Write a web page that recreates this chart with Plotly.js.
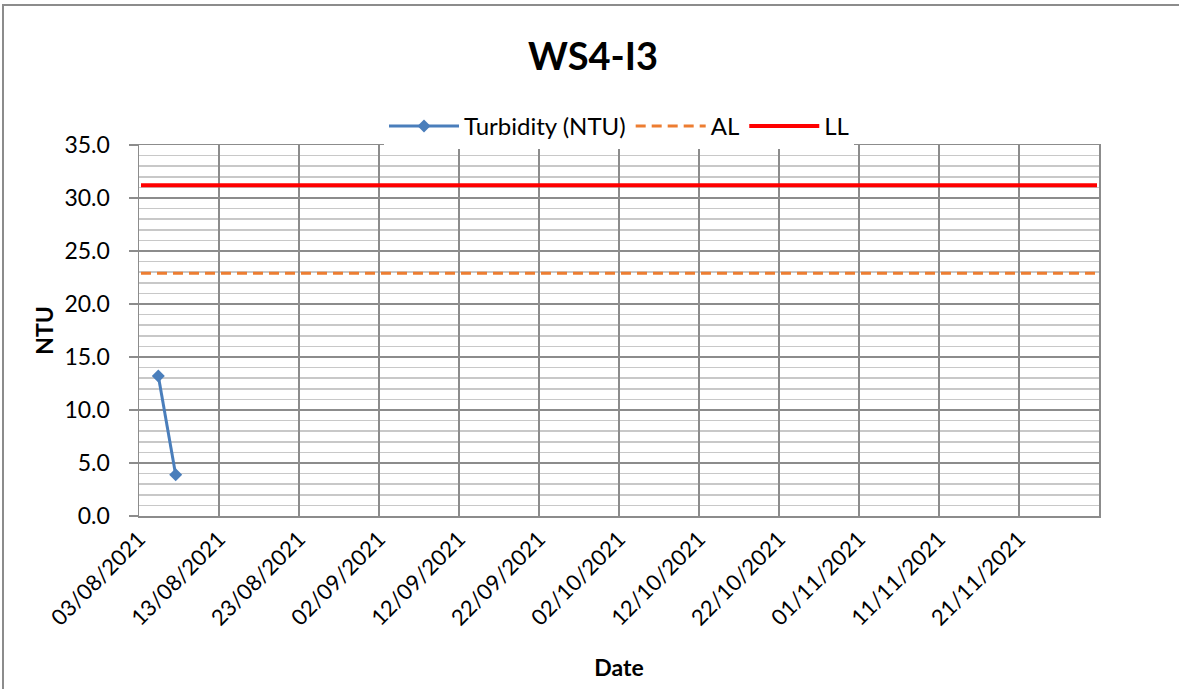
<!DOCTYPE html>
<html><head><meta charset="utf-8">
<script src="https://cdn.plot.ly/plotly-3.0.1.min.js"></script>
<style>html,body{margin:0;padding:0;background:#fff}#chart{width:1179px;height:689px}</style>
</head><body><div id="chart"></div>
<script>
// Data
const turbDates = ['2021-08-05 10:00', '2021-08-07 14:00'];
const turbValues = [13.2, 3.9];
const limitDates = ['2021-08-03 06:00', '2021-11-30 18:00'];
const alValues = [22.9, 22.9];
const llValues = [31.2, 31.2];
const xTickDates = ['2021-08-03','2021-08-13','2021-08-23','2021-09-02','2021-09-12','2021-09-22','2021-10-02','2021-10-12','2021-10-22','2021-11-01','2021-11-11','2021-11-21'];
const xTickLabels = ['03/08/2021','13/08/2021','23/08/2021','02/09/2021','12/09/2021','22/09/2021','02/10/2021','12/10/2021','22/10/2021','01/11/2021','11/11/2021','21/11/2021'];

const FONT = 'Lato, "Open Sans", sans-serif';
const L = 139, R = 80, T = 145, B = 173, W = 1179, H = 689;
const pw = W - L - R, ph = H - T - B;

const traces = [
  {x: turbDates, y: turbValues, name: 'Turbidity (NTU)', type: 'scatter', mode: 'lines+markers',
   line: {color: '#4a7ebb', width: 3}, marker: {symbol: 'diamond', size: 10, color: '#4a7ebb'}},
  {x: limitDates, y: alValues, name: 'AL', type: 'scatter', mode: 'lines',
   line: {color: '#ed7d31', width: 3, dash: '10px,6px'}},
  {x: limitDates, y: llValues, name: 'LL', type: 'scatter', mode: 'lines',
   line: {color: '#ff0000', width: 4}}
];

const layout = {
  width: W, height: H,
  margin: {l: L, r: R, t: T, b: B, pad: 0},
  paper_bgcolor: '#fff', plot_bgcolor: '#fff',
  font: {family: FONT, size: 22, color: '#000'},
  title: {text: '<b>WS4-I3</b>', font: {family: FONT, size: 38, color: '#000'},
          x: 0.503, xanchor: 'center', y: 0.917, yanchor: 'middle'},
  showlegend: true,
  legend: {orientation: 'h', x: 0.5, xanchor: 'center', y: 1.05, yanchor: 'middle',
           font: {family: FONT, size: 24, color: '#000'}, traceorder: 'normal', itemwidth: 70},
  xaxis: {
    type: 'date', range: ['2021-08-03', '2021-12-01'],
    tickmode: 'array', tickvals: xTickDates, ticktext: xTickLabels, tickangle: -45,
    tickfont: {family: FONT, size: 22, color: '#000'},
    showgrid: true, gridcolor: '#8c8c8c', gridwidth: 1.5,
    showline: true, linecolor: '#8c8c8c', linewidth: 1.5, mirror: true,
    ticks: '', zeroline: false,
    title: {text: '<b>Date</b>', font: {family: FONT, size: 23, color: '#000'}, standoff: 30}
  },
  yaxis: {
    range: [0, 35], dtick: 5, tickformat: '.1f',
    tickfont: {family: FONT, size: 23, color: '#000'},
    showgrid: true, gridcolor: '#8c8c8c', gridwidth: 1.5,
    minor: {dtick: 1, showgrid: true, gridcolor: '#c8c8c8', gridwidth: 1.5},
    showline: true, linecolor: '#8c8c8c', linewidth: 1.5, mirror: true,
    ticks: 'outside', ticklen: 9, tickcolor: '#8c8c8c', tickwidth: 1.5,
    ticklabelstandoff: 14,
    zeroline: false,
    title: {text: '<b>NTU</b>', font: {family: FONT, size: 23, color: '#000'}, standoff: 4}
  },
  shapes: [{
    type: 'rect', xref: 'paper', yref: 'paper',
    x0: (3 - L) / pw, x1: (W + 10 - L) / pw,
    y0: (T + ph - H - 10) / ph, y1: (T + ph - 5) / ph,
    line: {color: '#8c8c8c', width: 2}, fillcolor: 'rgba(0,0,0,0)', layer: 'below'
  }]
};

Plotly.newPlot('chart', traces, layout, {staticPlot: true, displayModeBar: false});
</script></body></html>
